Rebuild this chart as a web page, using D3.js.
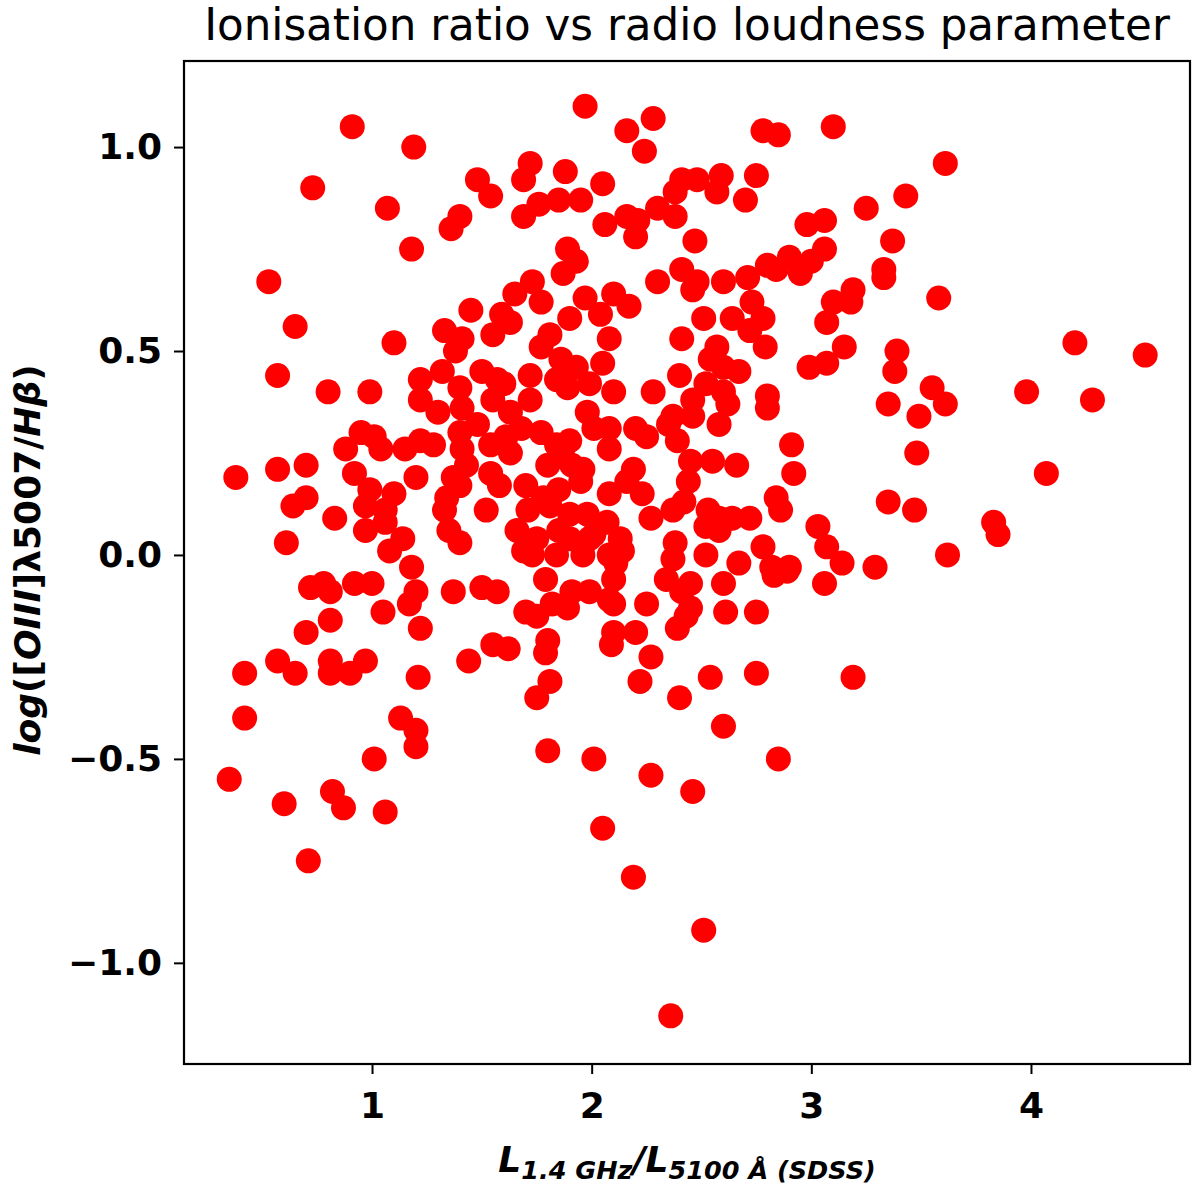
<!DOCTYPE html>
<html>
<head>
<meta charset="utf-8">
<script src="https://cdn.jsdelivr.net/npm/d3@7"></script>
<style>
body{margin:0;background:#fff}
svg text{font-family:"DejaVu Sans",sans-serif}
</style>
</head>
<body>
<svg id="canvas"></svg>
<script>
// L1.4GHz / L5100A (x) and log([OIII]/Hbeta) (y)
let loudness=[
1.97,2.28,2.16,2.24,2.78,2.85,3.10,1.72,1.69,1.88,2.05,1.76,1.85,1.95,1.69,2.06,2.16,2.21,2.20,2.30,
2.38,2.38,2.41,2.48,2.59,2.57,2.75,2.70,2.47,2.98,3.06,3.25,1.89,1.93,1.87,1.73,1.77,2.10,2.17,1.97,
1.90,2.04,2.30,2.41,2.48,2.46,2.60,2.71,2.73,2.80,2.84,2.90,2.95,3.00,3.06,3.10,3.19,2.51,2.64,2.78,
3.07,0.91,1.19,0.73,1.07,1.48,1.54,1.40,1.36,1.18,0.53,0.65,1.45,1.59,1.65,1.33,1.10,0.57,0.80,0.99,
1.22,1.22,0.95,1.01,0.88,1.04,1.15,0.38,0.57,0.70,0.92,0.99,1.10,1.20,0.70,0.64,0.83,0.97,1.06,1.06,
0.97,0.61,1.08,1.14,1.18,1.63,1.55,1.41,1.38,1.81,1.77,2.08,2.05,1.86,1.93,1.84,1.89,1.99,2.10,1.32,
1.40,1.50,1.57,1.60,1.72,1.55,1.72,1.30,1.41,1.48,1.63,1.61,1.68,1.77,1.84,1.90,1.98,2.01,2.08,1.22,
1.28,1.40,1.41,1.43,1.54,1.63,1.80,1.91,1.95,2.08,1.37,1.40,1.54,1.58,1.70,1.78,1.85,1.34,1.33,1.52,
1.71,1.81,1.90,1.98,2.07,1.35,1.40,1.66,1.75,1.85,1.90,1.99,1.73,1.84,1.96,2.08,2.41,2.57,2.72,2.79,
3.15,3.07,2.99,2.54,2.60,2.67,2.40,2.52,2.28,2.46,2.60,2.62,2.80,2.80,2.37,2.35,2.46,2.58,2.20,2.25,
2.39,2.08,2.91,2.45,2.55,2.66,2.92,2.19,2.16,2.44,2.23,2.84,2.86,2.42,2.37,2.27,2.53,2.58,2.64,2.72,
2.52,2.58,3.03,3.07,2.78,2.38,2.52,2.67,2.82,2.90,3.14,2.13,2.14,2.37,2.11,0.72,0.78,0.81,0.92,1.00,
1.20,1.17,1.22,0.81,0.70,1.05,0.57,0.65,0.42,0.81,0.81,0.90,0.97,1.21,0.42,1.13,1.20,1.20,1.01,0.35,
0.60,0.82,0.87,1.06,0.71,1.37,1.50,1.57,1.44,1.55,1.62,1.70,1.75,1.82,1.89,1.91,1.99,2.08,1.79,1.80,
1.79,1.81,1.75,2.10,2.09,1.80,2.01,2.05,2.10,2.34,2.45,2.41,2.60,2.83,2.89,3.06,2.10,2.25,2.45,2.43,
2.39,2.61,2.75,2.20,2.27,2.22,2.54,2.75,3.19,2.40,2.60,2.85,2.27,2.46,2.19,2.51,2.36,3.61,3.43,3.37,
3.33,3.33,3.18,3.58,3.39,3.38,3.55,3.61,3.35,3.49,3.48,3.98,4.20,4.52,4.28,4.07,3.35,3.47,3.83,3.85,
3.62,3.29,1.96,1.87,1.69,2.01
]
let ionRatio=[
1.10,1.07,1.04,0.99,1.04,1.03,1.05,0.96,0.92,0.94,0.91,0.86,0.87,0.87,0.83,0.81,0.83,0.82,0.78,0.85,
0.83,0.89,0.92,0.92,0.93,0.89,0.93,0.87,0.77,0.81,0.82,0.85,0.75,0.72,0.69,0.67,0.62,0.64,0.61,0.63,
0.58,0.59,0.67,0.70,0.67,0.65,0.67,0.68,0.62,0.71,0.70,0.73,0.69,0.72,0.75,0.62,0.65,0.58,0.58,0.58,
0.57,1.05,1.00,0.90,0.85,0.92,0.88,0.83,0.80,0.75,0.67,0.56,0.60,0.59,0.64,0.55,0.52,0.44,0.40,0.40,
0.43,0.38,0.30,0.29,0.26,0.26,0.26,0.19,0.21,0.22,0.20,0.16,0.15,0.19,0.14,0.12,0.09,0.12,0.11,0.08,
0.06,0.03,0.01,0.04,-0.03,0.57,0.54,0.53,0.50,0.54,0.51,0.53,0.47,0.48,0.46,0.43,0.41,0.42,0.40,0.45,
0.41,0.45,0.43,0.42,0.44,0.38,0.38,0.35,0.36,0.32,0.35,0.29,0.31,0.30,0.27,0.28,0.35,0.31,0.31,0.28,
0.27,0.30,0.26,0.22,0.27,0.25,0.22,0.22,0.18,0.15,0.19,0.17,0.20,0.17,0.17,0.14,0.16,0.14,0.11,0.11,
0.11,0.12,0.10,0.10,0.08,0.06,0.03,0.06,0.04,0.06,0.04,0.04,0.00,0.00,0.00,0.00,0.53,0.51,0.55,0.51,
0.51,0.47,0.46,0.48,0.46,0.45,0.44,0.42,0.40,0.38,0.40,0.37,0.39,0.36,0.34,0.32,0.34,0.32,0.31,0.29,
0.28,0.26,0.27,0.23,0.23,0.22,0.20,0.21,0.18,0.18,0.15,0.14,0.11,0.13,0.11,0.09,0.11,0.09,0.09,0.09,
0.07,0.06,0.07,0.02,0.02,0.03,0.00,-0.02,-0.03,-0.03,-0.02,0.04,0.01,-0.01,-0.02,-0.08,-0.07,-0.09,-0.07,-0.07,
-0.09,-0.12,-0.18,-0.16,-0.19,-0.14,-0.26,-0.29,-0.29,-0.26,-0.29,-0.29,-0.26,-0.30,-0.40,-0.40,-0.43,-0.47,-0.50,-0.55,
-0.61,-0.58,-0.62,-0.63,-0.75,-0.09,-0.08,-0.09,-0.26,-0.22,-0.23,-0.14,-0.15,-0.12,-0.13,-0.09,-0.09,-0.11,-0.06,-0.21,
-0.24,-0.31,-0.35,-0.19,-0.22,-0.48,-0.50,-0.67,-0.06,-0.06,-0.07,-0.09,-0.07,-0.05,-0.04,-0.07,-0.12,-0.12,-0.13,-0.15,
-0.18,-0.14,-0.14,-0.19,-0.25,-0.31,-0.30,-0.29,-0.30,-0.35,-0.42,-0.50,-0.54,-0.58,-0.79,-0.92,-1.13,0.96,0.88,0.77,
0.70,0.68,0.62,0.63,0.50,0.45,0.41,0.37,0.37,0.34,0.25,0.40,0.52,0.49,0.38,0.20,0.13,0.11,0.08,0.05,
0.00,-0.03,0.21,0.24,0.01,0.05
]
let xTicks=[1,2,3,4]
let yTicks=[-1,-0.5,0,0.5,1]

let width=1200
let height=1189
let plotLeft=184, plotRight=1190, plotTop=61, plotBottom=1064

let canvas=d3.select('#canvas')
canvas.attr('width',width)
canvas.attr('height',height)

let xScale=d3.scaleLinear()
    .domain([0.144,4.724])
    .range([plotLeft,plotRight])

let yScale=d3.scaleLinear()
    .domain([-1.248,1.211])
    .range([plotBottom,plotTop])

let values=loudness.map((x,i)=>({x:x,y:ionRatio[i]}))

// points
canvas.append('g')
    .selectAll('circle')
    .data(values)
    .enter()
    .append('circle')
    .attr('cx',(d)=>xScale(d.x))
    .attr('cy',(d)=>yScale(d.y))
    .attr('r',12.5)
    .attr('fill','#ff0000')

// axes
let xAxis=d3.axisBottom(xScale)
    .tickValues(xTicks)
    .tickSize(10)
    .tickPadding(18)
    .tickFormat(d3.format('d'))

let yAxis=d3.axisLeft(yScale)
    .tickValues(yTicks)
    .tickSize(10)
    .tickPadding(12)
    .tickFormat(d3.format('.1f'))

let gx=canvas.append('g')
    .attr('transform','translate(0,'+plotBottom+')')
    .call(xAxis)
let gy=canvas.append('g')
    .attr('transform','translate('+plotLeft+',0)')
    .call(yAxis)

;[gx,gy].forEach((g)=>{
    g.select('.domain').remove()
    g.selectAll('line').attr('stroke','#000').attr('stroke-width',2)
    g.selectAll('text')
        .attr('fill','#000')
        .style('font-family','"DejaVu Sans"')
        .style('font-size','36px')
        .style('font-weight','bold')
})

// frame
canvas.append('rect')
    .attr('x',plotLeft)
    .attr('y',plotTop)
    .attr('width',plotRight-plotLeft)
    .attr('height',plotBottom-plotTop)
    .attr('fill','none')
    .attr('stroke','#000')
    .attr('stroke-width',2.2)

// title
canvas.append('text')
    .attr('x',(plotLeft+plotRight)/2)
    .attr('y',40)
    .attr('text-anchor','middle')
    .style('font-size','43.6px')
    .text('Ionisation ratio vs radio loudness parameter')

// x label
let xl=canvas.append('text')
    .attr('x',(plotLeft+plotRight)/2)
    .attr('y',1172)
    .attr('text-anchor','middle')
    .style('font-weight','bold')
    .style('font-style','italic')
    .style('font-size','36px')
xl.append('tspan').text('L')
xl.append('tspan').attr('dy',7).style('font-size','25.5px').text('1.4 GHz')
xl.append('tspan').attr('dy',-7).text('/L')
xl.append('tspan').attr('dy',7).style('font-size','25.5px').text('5100 Å (SDSS)')

// y label
let yl=canvas.append('text')
    .attr('transform','translate(40,560) rotate(-90)')
    .attr('text-anchor','middle')
    .style('font-weight','bold')
    .style('font-size','36px')
yl.append('tspan').style('font-style','italic').text('log')
yl.append('tspan').text('([')
yl.append('tspan').style('font-style','italic').text('OIII')
yl.append('tspan').text(']λ5007/')
yl.append('tspan').style('font-style','italic').text('Hβ')
yl.append('tspan').text(')')
</script>
</body>
</html>
